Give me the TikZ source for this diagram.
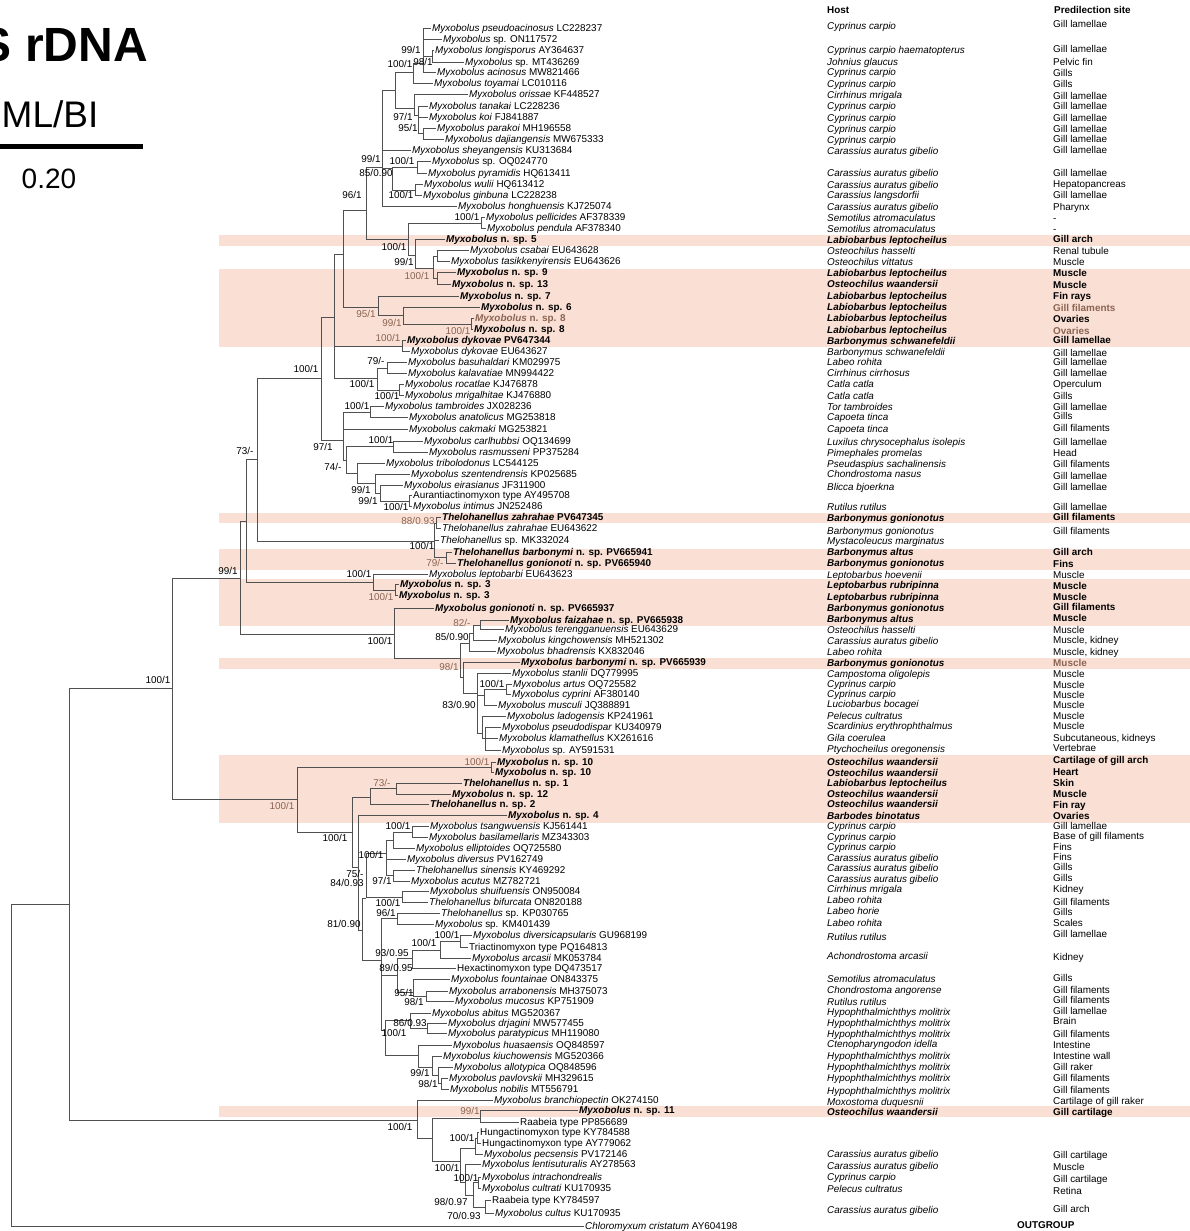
\documentclass[tikz,border=0pt]{standalone}
\usepackage{fontspec}
\setmainfont{Liberation Sans}
\definecolor{band}{RGB}{249,223,212}
\definecolor{brn}{RGB}{140,100,82}
\definecolor{linec}{RGB}{80,80,80}
\newcommand\fs{\fontsize{9.9}{11}\selectfont}
\newcommand\tI[1]{\textit{#1}}
\newcommand\bI[1]{\textbf{\textit{#1}}}
\newcommand\nsp[2]{\bI{#1} \textbf{n. sp. #2}}
\newcommand\leafnode[4]{\node[lf] (#1) at ({#2-1.5},#3) {#4};}
\newcommand\supp[4]{\node[sp] (#1) at (#2,#3) {#4};}
\newcommand\suppb[4]{\node[spb] (#1) at (#2,#3) {#4};}
\begin{document}
\begin{tikzpicture}[x=1pt,y=-1pt,
 br/.style={draw=linec,line width=0.75pt},
 lf/.style={anchor=west,inner xsep=1.5pt,inner ysep=0pt,text height=7pt,text depth=0pt,font=\fs},
 hs/.style={anchor=west,inner sep=0pt,text height=7pt,text depth=0pt,font=\fs},
 sp/.style={inner sep=0pt,text height=7pt,text depth=0pt,font=\fs},
 spb/.style={sp,text=brn},
 bandbox/.style={fill=band,draw=none}]
\useasboundingbox (0,0) rectangle (1190,1231);
% highlight bands
\fill[bandbox] (219,234.5) rectangle (1190,246);
\fill[bandbox] (219,268.5) rectangle (1190,347);
\fill[bandbox] (219,512.5) rectangle (1190,523);
\fill[bandbox] (219,548.5) rectangle (1190,570);
\fill[bandbox] (219,579) rectangle (1190,626);
\fill[bandbox] (219,658) rectangle (1190,669);
\fill[bandbox] (219,755) rectangle (1190,823);
\fill[bandbox] (219,1106) rectangle (1190,1117);
% title, method, scale bar
\node[anchor=base east,inner sep=0pt,font=\fontsize{48}{50}\selectfont\bfseries] (title) at (148,62) {S rDNA};
\node[anchor=base west,inner sep=0pt,font=\fontsize{37}{40}\selectfont] (method) at (1.5,127) {ML/BI};
\coordinate (sbA) at (0,146.3); \coordinate (sbB) at (142.5,146.3);
\draw[line width=4.5pt] (sbA) -- (sbB);
\node[anchor=base west,inner sep=0pt,font=\fontsize{28}{30}\selectfont] (scaleval) at (21.5,188) {0.20};
% internal nodes
\coordinate (R) at (11,1065);
\coordinate (A) at (69,904);
\coordinate (B) at (172,688);
\coordinate (N240) at (240,578);
\coordinate (N246) at (246,521);
\coordinate (T1) at (257,459);
\coordinate (P) at (321,378);
\coordinate (k1) at (334,317);
\coordinate (i1) at (343,254);
\coordinate (f1) at (366,210);
\coordinate (e1) at (382,167);
\coordinate (c1) at (395,90);
\coordinate (a0) at (413,72);
\coordinate (a1) at (423,63);
\coordinate (a2) at (432,56);
\coordinate (b1) at (414,108);
\coordinate (b2) at (418,115);
\coordinate (b3) at (423,133);
\coordinate (d0) at (392,168);
\coordinate (d1) at (417,167);
\coordinate (d2) at (415,190);
\coordinate (h0) at (408,239);
\coordinate (g1) at (481,223);
\coordinate (g2) at (415,255);
\coordinate (g3) at (433,268);
\coordinate (g4) at (437,256);
\coordinate (g5) at (437,278);
\coordinate (j1) at (378,307);
\coordinate (j2) at (403,315);
\coordinate (j3) at (471,324);
\coordinate (m2) at (402,346);
\coordinate (n1) at (377,378);
\coordinate (n2) at (387,368);
\coordinate (n3) at (399,390);
\coordinate (V) at (343,440);
\coordinate (o1) at (370,412);
\coordinate (u1) at (346,460);
\coordinate (u2) at (393,446);
\coordinate (u3) at (357,473);
\coordinate (u4) at (375,483);
\coordinate (u5) at (380,493);
\coordinate (u6) at (409,501);
\coordinate (Q) at (434,541);
\coordinate (q1) at (436,523);
\coordinate (q2) at (446,557);
\coordinate (S1) at (373,582);
\coordinate (S2) at (395,590);
\coordinate (W1) at (394,634);
\coordinate (W2) at (460,658);
\coordinate (W3) at (469,643);
\coordinate (W3b) at (473,633);
\coordinate (W4) at (480,625);
\coordinate (W5) at (463,677);
\coordinate (W6) at (477,693);
\coordinate (W7) at (484,695);
\coordinate (W7a) at (506,689);
\coordinate (W8) at (482,733);
\coordinate (W9) at (485,738);
\coordinate (C) at (297,799);
\coordinate (X1) at (491,767);
\coordinate (Y1) at (352,832);
\coordinate (Z0) at (370,797);
\coordinate (Z1) at (396,788);
\coordinate (Y2) at (358,867);
\coordinate (Y3) at (362,930);
\coordinate (Y4) at (366,898);
\coordinate (Y6) at (386,853);
\coordinate (Y8) at (393,840);
\coordinate (Y8a) at (412,832);
\coordinate (Y9) at (393,875);
\coordinate (Y7) at (402,897);
\coordinate (Y5) at (381,960);
\coordinate (Y10) at (397,918);
\coordinate (Y11) at (397,975);
\coordinate (Y12p) at (412,958);
\coordinate (Y12) at (440,950);
\coordinate (Y13) at (460,941);
\coordinate (Y14) at (413,992);
\coordinate (Y15) at (426,996);
\coordinate (Y18) at (385,1030);
\coordinate (Y24) at (410,1020);
\coordinate (Y23) at (427,1028);
\coordinate (Y26) at (418,1055);
\coordinate (Y20) at (432,1067);
\coordinate (Y21) at (438,1075);
\coordinate (Y22) at (441,1083);
\coordinate (BB0) at (417,1120);
\coordinate (BB1) at (432,1138);
\coordinate (BB2) at (480,1118);
\coordinate (BB3) at (460,1161);
\coordinate (BB4) at (475,1148);
\coordinate (BB4a) at (477,1138);
\coordinate (BB5) at (465,1182);
\coordinate (BB6) at (473,1195);
\coordinate (BB7) at (478,1182);
\coordinate (BB8) at (485,1207);
% leaves
\leafnode{l1}{432}{28}{\tI{Myxobolus pseudoacinosus} LC228237}
\leafnode{l2}{443}{39}{\tI{Myxobolus} sp. ON117572}
\leafnode{l3}{435}{50}{\tI{Myxobolus longisporus} AY364637}
\leafnode{l4}{465}{62}{\tI{Myxobolus} sp. MT436269}
\leafnode{l5}{437}{72}{\tI{Myxobolus acinosus} MW821466}
\leafnode{l6}{434}{83}{\tI{Myxobolus toyamai} LC010116}
\leafnode{l7}{469}{94}{\tI{Myxobolus orissae} KF448527}
\leafnode{l8}{429}{106}{\tI{Myxobolus tanakai} LC228236}
\leafnode{l9}{429}{117}{\tI{Myxobolus koi} FJ841887}
\leafnode{l10}{437}{128}{\tI{Myxobolus parakoi} MH196558}
\leafnode{l11}{445}{139}{\tI{Myxobolus dajiangensis} MW675333}
\leafnode{l12}{412}{150}{\tI{Myxobolus sheyangensis} KU313684}
\leafnode{l13}{432}{161}{\tI{Myxobolus} sp. OQ024770}
\leafnode{l14}{428}{173}{\tI{Myxobolus pyramidis} HQ613411}
\leafnode{l15}{424}{184}{\tI{Myxobolus wulii} HQ613412}
\leafnode{l16}{423}{195}{\tI{Myxobolus ginbuna} LC228238}
\leafnode{l17}{458}{206}{\tI{Myxobolus honghuensis} KJ725074}
\leafnode{l18}{486}{217}{\tI{Myxobolus pellicides} AF378339}
\leafnode{l19}{487}{228}{\tI{Myxobolus pendula} AF378340}
\leafnode{l20}{446}{239}{\nsp{Myxobolus}{5}}
\leafnode{l21}{470}{250}{\tI{Myxobolus csabai} EU643628}
\leafnode{l22}{451}{261}{\tI{Myxobolus tasikkenyirensis} EU643626}
\leafnode{l23}{457}{272}{\nsp{Myxobolus}{9}}
\leafnode{l24}{452}{284}{\nsp{Myxobolus}{13}}
\leafnode{l25}{460}{296}{\nsp{Myxobolus}{7}}
\leafnode{l26}{481}{307}{\nsp{Myxobolus}{6}}
\leafnode{l27}{475}{318}{\color{brn}\nsp{Myxobolus}{8}}
\leafnode{l28}{474}{329}{\nsp{Myxobolus}{8}}
\leafnode{l29}{407}{340}{\bI{Myxobolus dykovae} \textbf{PV647344}}
\leafnode{l30}{411}{351}{\tI{Myxobolus dykovae} EU643627}
\leafnode{l31}{408}{362}{\tI{Myxobolus basuhaldari} KM029975}
\leafnode{l32}{408}{373}{\tI{Myxobolus kalavatiae} MN994422}
\leafnode{l33}{405}{384}{\tI{Myxobolus rocatlae} KJ476878}
\leafnode{l34}{405}{395}{\tI{Myxobolus mrigalhitae} KJ476880}
\leafnode{l35}{385}{406}{\tI{Myxobolus tambroides} JX028236}
\leafnode{l36}{409}{417}{\tI{Myxobolus anatolicus} MG253818}
\leafnode{l37}{409}{429}{\tI{Myxobolus cakmaki} MG253821}
\leafnode{l38}{424}{441}{\tI{Myxobolus carlhubbsi} OQ134699}
\leafnode{l39}{429}{452}{\tI{Myxobolus rasmusseni} PP375284}
\leafnode{l40}{386}{463}{\tI{Myxobolus tribolodonus} LC544125}
\leafnode{l41}{411}{474}{\tI{Myxobolus szentendrensis} KP025685}
\leafnode{l42}{404}{485}{\tI{Myxobolus eirasianus} JF311900}
\leafnode{l43}{413}{495}{Aurantiactinomyxon type AY495708}
\leafnode{l44}{413}{506}{\tI{Myxobolus intimus} JN252486}
\leafnode{l45}{442}{517}{\bI{Thelohanellus zahrahae} \textbf{PV647345}}
\leafnode{l46}{442}{528}{\tI{Thelohanellus zahrahae} EU643622}
\leafnode{l47}{440}{540}{\tI{Thelohanellus} sp. MK332024}
\leafnode{l48}{453}{552}{\bI{Thelohanellus barbonymi} \textbf{n. sp. PV665941}}
\leafnode{l49}{457}{563}{\bI{Thelohanellus gonionoti} \textbf{n. sp. PV665940}}
\leafnode{l50}{429}{574}{\tI{Myxobolus leptobarbi} EU643623}
\leafnode{l51}{400}{584}{\nsp{Myxobolus}{3}}
\leafnode{l52}{399}{595}{\nsp{Myxobolus}{3}}
\leafnode{l53}{435}{608}{\bI{Myxobolus gonionoti} \textbf{n. sp. PV665937}}
\leafnode{l54}{510}{620}{\bI{Myxobolus faizahae} \textbf{n. sp. PV665938}}
\leafnode{l55}{505}{629}{\tI{Myxobolus terengganuensis} EU643629}
\leafnode{l56}{498}{640}{\tI{Myxobolus kingchowensis} MH521302}
\leafnode{l57}{497}{651}{\tI{Myxobolus bhadrensis} KX832046}
\leafnode{l58}{521}{662}{\bI{Myxobolus barbonymi} \textbf{n. sp. PV665939}}
\leafnode{l59}{512}{673}{\tI{Myxobolus stanlii} DQ779995}
\leafnode{l60}{513}{684}{\tI{Myxobolus artus} OQ725582}
\leafnode{l61}{512}{694}{\tI{Myxobolus cyprini} AF380140}
\leafnode{l62}{498}{705}{\tI{Myxobolus musculi} JQ388891}
\leafnode{l63}{507}{716}{\tI{Myxobolus ladogensis} KP241961}
\leafnode{l64}{502}{727}{\tI{Myxobolus pseudodispar} KU340979}
\leafnode{l65}{499}{738}{\tI{Myxobolus klamathellus} KX261616}
\leafnode{l66}{502}{750}{\tI{Myxobolus} sp. AY591531}
\leafnode{l67}{497}{762}{\nsp{Myxobolus}{10}}
\leafnode{l68}{495}{772}{\nsp{Myxobolus}{10}}
\leafnode{l69}{463}{783}{\nsp{Thelohanellus}{1}}
\leafnode{l70}{452}{794}{\nsp{Myxobolus}{12}}
\leafnode{l71}{430}{804}{\nsp{Thelohanellus}{2}}
\leafnode{l72}{508}{815}{\nsp{Myxobolus}{4}}
\leafnode{l73}{430}{826}{\tI{Myxobolus tsangwuensis} KJ561441}
\leafnode{l74}{429}{837}{\tI{Myxobolus basilamellaris} MZ343303}
\leafnode{l75}{416}{848}{\tI{Myxobolus elliptoides} OQ725580}
\leafnode{l76}{407}{859}{\tI{Myxobolus diversus} PV162749}
\leafnode{l77}{416}{870}{\tI{Thelohanellus sinensis} KY469292}
\leafnode{l78}{411}{881}{\tI{Myxobolus acutus} MZ782721}
\leafnode{l79}{430}{891}{\tI{Myxobolus shuifuensis} ON950084}
\leafnode{l80}{429}{902}{\tI{Thelohanellus bifurcata} ON820188}
\leafnode{l81}{441}{913}{\tI{Thelohanellus} sp. KP030765}
\leafnode{l82}{435}{924}{\tI{Myxobolus} sp. KM401439}
\leafnode{l83}{473}{935}{\tI{Myxobolus diversicapsularis} GU968199}
\leafnode{l84}{469}{947}{Triactinomyxon type PQ164813}
\leafnode{l85}{472}{958}{\tI{Myxobolus arcasii} MK053784}
\leafnode{l86}{457}{968}{Hexactinomyxon type DQ473517}
\leafnode{l87}{451}{979}{\tI{Myxobolus fountainae} ON843375}
\leafnode{l88}{449}{991}{\tI{Myxobolus arrabonensis} MH375073}
\leafnode{l89}{455}{1001}{\tI{Myxobolus mucosus} KP751909}
\leafnode{l90}{432}{1013}{\tI{Myxobolus abitus} MG520367}
\leafnode{l91}{448}{1023}{\tI{Myxobolus drjagini} MW577455}
\leafnode{l92}{448}{1033}{\tI{Myxobolus paratypicus} MH119080}
\leafnode{l93}{453}{1045}{\tI{Myxobolus huasaensis} OQ848597}
\leafnode{l94}{443}{1056}{\tI{Myxobolus kiuchowensis} MG520366}
\leafnode{l95}{454}{1067}{\tI{Myxobolus allotypica} OQ848596}
\leafnode{l96}{449}{1078}{\tI{Myxobolus pavlovskii} MH329615}
\leafnode{l97}{450}{1089}{\tI{Myxobolus nobilis} MT556791}
\leafnode{l98}{494}{1100}{\tI{Myxobolus branchiopectin} OK274150}
\leafnode{l99}{579}{1110}{\nsp{Myxobolus}{11}}
\leafnode{l100}{520}{1122}{Raabeia type PP856689}
\leafnode{l101}{480}{1132}{Hungactinomyxon type KY784588}
\leafnode{l102}{482}{1143}{Hungactinomyxon type AY779062}
\leafnode{l103}{484}{1154}{\tI{Myxobolus pecsensis} PV172146}
\leafnode{l104}{482}{1164}{\tI{Myxobolus lentisuturalis} AY278563}
\leafnode{l105}{482}{1177}{\tI{Myxobolus intrachondrealis}}
\leafnode{l106}{482}{1188}{\tI{Myxobolus cultrati} KU170935}
\leafnode{l107}{492}{1200}{Raabeia type KY784597}
\leafnode{l108}{495}{1213}{\tI{Myxobolus cultus} KU170935}
\leafnode{l109}{585}{1226}{\tI{Chloromyxum cristatum} AY604198}
% branches between internal nodes
\foreach \p/\c in {R/A,A/B,A/BB0,B/N240,B/C,N240/N246,N240/W1,N246/T1,N246/S1,T1/P,T1/Q,
 P/k1,P/V,k1/i1,k1/m2,k1/n1,i1/f1,i1/j1,f1/e1,f1/h0,e1/c1,e1/d0,c1/a0,c1/b1,a0/a1,a1/a2,
 b1/b2,b2/b3,d0/d1,d0/d2,h0/g1,h0/g2,g2/g3,g3/g4,g3/g5,j1/j2,j2/j3,n1/n2,n1/n3,V/o1,V/u1,
 u1/u2,u1/u3,u3/u4,u4/u5,u5/u6,Q/q1,Q/q2,S1/S2,W1/W2,W2/W3,W2/W5,W3/W3b,W3b/W4,W5/W6,
 W6/W7,W6/W8,W7/W7a,W8/W9,C/X1,C/Y1,Y1/Z0,Y1/Y2,Z0/Z1,Y2/Y3,Y3/Y4,Y3/Y5,Y4/Y6,Y4/Y7,
 Y6/Y8,Y6/Y9,Y8/Y8a,Y5/Y10,Y5/Y11,Y5/Y18,Y11/Y12p,Y11/Y14,Y12p/Y12,Y12/Y13,Y14/Y15,
 Y18/Y24,Y18/Y26,Y24/Y23,Y26/Y20,Y20/Y21,Y21/Y22,BB0/BB1,BB1/BB2,BB1/BB3,BB3/BB4,BB3/BB5,
 BB4/BB4a,BB5/BB6,BB6/BB7,BB6/BB8}
 {\draw[br] (\p) |- (\c);}
% branches to leaves
\foreach \p/\c in {a1/l1,a1/l2,a2/l3,a2/l4,a1/l5,a0/l6,b1/l7,b2/l8,b2/l9,b3/l10,b3/l11,
 e1/l12,d1/l13,d1/l14,d2/l15,d2/l16,e1/l17,g1/l18,g1/l19,g2/l20,g4/l21,g4/l22,g5/l23,g5/l24,
 j1/l25,j2/l26,j3/l27,j3/l28,m2/l29,m2/l30,n2/l31,n2/l32,n3/l33,n3/l34,o1/l35,o1/l36,V/l37,
 u2/l38,u2/l39,u3/l40,u4/l41,u5/l42,u6/l43,u6/l44,q1/l45,q1/l46,Q/l47,q2/l48,q2/l49,
 S1/l50,S2/l51,S2/l52,W1/l53,W4/l54,W4/l55,W3b/l56,W3/l57,W5/l58,W6/l59,W7a/l60,W7a/l61,
 W7/l62,W8/l63,W9/l64,W9/l65,W9/l66,X1/l67,X1/l68,Z1/l69,Z1/l70,Z0/l71,Y2/l72,Y8a/l73,
 Y8a/l74,Y8/l75,Y6/l76,Y9/l77,Y9/l78,Y7/l79,Y7/l80,Y10/l81,Y10/l82,Y13/l83,Y13/l84,Y12/l85,
 Y12p/l86,Y14/l87,Y15/l88,Y15/l89,Y24/l90,Y23/l91,Y23/l92,Y26/l93,Y20/l94,Y21/l95,Y22/l96,
 Y22/l97,BB0/l98,BB2/l99,BB2/l100,BB4a/l101,BB4a/l102,BB4/l103,BB5/l104,BB7/l105,BB7/l106,
 BB8/l107,BB8/l108,R/l109}
 {\draw[br] (\p) |- (\c.west);}
% support values
\supp{s1}{411}{50}{99/1}
\supp{s2}{423}{62}{98/1}
\supp{s3}{400}{64}{100/1}
\supp{s4}{403}{117}{97/1}
\supp{s5}{408}{128}{95/1}
\supp{s6}{371}{159}{99/1}
\supp{s7}{402}{161}{100/1}
\supp{s8}{376}{173}{85/0.90}
\supp{s9}{401}{195}{100/1}
\supp{s10}{352}{195}{96/1}
\supp{s11}{467}{217}{100/1}
\supp{s12}{394}{247}{100/1}
\supp{s13}{404}{262}{99/1}
\suppb{s14}{417}{276}{100/1}
\suppb{s15}{366}{314}{95/1}
\suppb{s16}{392}{323}{99/1}
\suppb{s17}{458}{331}{100/1}
\suppb{s18}{388}{338}{100/1}
\supp{s19}{376}{361}{79/-}
\supp{s20}{362}{384}{100/1}
\supp{s21}{387}{396}{100/1}
\supp{s22}{357}{406}{100/1}
\supp{s23}{306}{369}{100/1}
\supp{s24}{323}{447}{97/1}
\supp{s25}{333}{467}{74/-}
\supp{s26}{381}{440}{100/1}
\supp{s27}{361}{490}{99/1}
\supp{s28}{368}{501}{99/1}
\supp{s29}{396}{507}{100/1}
\suppb{s30}{418}{521}{88/0.93}
\supp{s31}{422}{546}{100/1}
\suppb{s32}{435}{563}{79/-}
\supp{s33}{359}{574}{100/1}
\suppb{s34}{381}{597}{100/1}
\supp{s35}{245}{451}{73/-}
\supp{s36}{228}{571}{99/1}
\supp{s37}{158}{680}{100/1}
\suppb{s38}{462}{623}{82/-}
\supp{s39}{452}{637}{85/0.90}
\supp{s40}{380}{641}{100/1}
\suppb{s41}{449}{667}{98/1}
\supp{s42}{492}{684}{100/1}
\supp{s43}{459}{705}{83/0.90}
\suppb{s44}{477}{762}{100/1}
\suppb{s45}{382}{783}{73/-}
\suppb{s46}{282}{806}{100/1}
\supp{s47}{335}{838}{100/1}
\supp{s48}{398}{826}{100/1}
\supp{s49}{371}{855}{100/1}
\supp{s50}{355}{874}{75/-}
\supp{s51}{347}{883}{84/0.93}
\supp{s52}{382}{881}{97/1}
\supp{s53}{388}{903}{100/1}
\supp{s54}{386}{913}{96/1}
\supp{s55}{344}{924}{81/0.90}
\supp{s56}{447}{935}{100/1}
\supp{s57}{424}{943}{100/1}
\supp{s58}{392}{953}{93/0.95}
\supp{s59}{396}{968}{89/0.95}
\supp{s60}{404}{993}{95/1}
\supp{s61}{414}{1002}{98/1}
\supp{s62}{410}{1023}{86/0.93}
\supp{s63}{394}{1033}{100/1}
\supp{s64}{420}{1073}{99/1}
\supp{s65}{428}{1084}{98/1}
\suppb{s66}{470}{1111}{99/1}
\supp{s67}{400}{1127}{100/1}
\supp{s68}{462}{1138}{100/1}
\supp{s69}{447}{1168}{100/1}
\supp{s70}{466}{1178}{100/1}
\supp{s71}{451}{1202}{98/0.97}
\supp{s72}{464}{1216}{70/0.93}
% headers
\node[hs,font=\fs\bfseries] (hhost) at (827,10) {Host};
\node[hs,font=\fs\bfseries] (hsite) at (1054,10) {Predilection site};
\node[hs,font=\fs\bfseries] (outg) at (1017,1225) {OUTGROUP};
% hosts
\foreach \y/\t [count=\i] in {26/{Cyprinus carpio},50/{Cyprinus carpio haematopterus},62/{Johnius glaucus},
 72/{Cyprinus carpio},84/{Cyprinus carpio},95/{Cirrhinus mrigala},106/{Cyprinus carpio},118/{Cyprinus carpio},
 129/{Cyprinus carpio},140/{Cyprinus carpio},151/{Carassius auratus gibelio},173/{Carassius auratus gibelio},
 185/{Carassius auratus gibelio},195/{Carassius langsdorfii},207/{Carassius auratus gibelio},
 218/{Semotilus atromaculatus},229/{Semotilus atromaculatus},251/{Osteochilus hasselti},262/{Osteochilus vittatus},
 352/{Barbonymus schwanefeldii},362/{Labeo rohita},373/{Cirrhinus cirrhosus},384/{Catla catla},396/{Catla catla},
 407/{Tor tambroides},417/{Capoeta tinca},429/{Capoeta tinca},442/{Luxilus chrysocephalus isolepis},
 453/{Pimephales promelas},464/{Pseudaspius sachalinensis},474/{Chondrostoma nasus},487/{Blicca bjoerkna},
 507/{Rutilus rutilus},531/{Barbonymus gonionotus},541/{Mystacoleucus marginatus},575/{Leptobarbus hoevenii},
 630/{Osteochilus hasselti},641/{Carassius auratus gibelio},652/{Labeo rohita},674/{Campostoma oligolepis},
 684/{Cyprinus carpio},694/{Cyprinus carpio},704/{Luciobarbus bocagei},716/{Pelecus cultratus},
 726/{Scardinius erythrophthalmus},738/{Gila coerulea},749/{Ptychocheilus oregonensis},826/{Cyprinus carpio},
 837/{Cyprinus carpio},847/{Cyprinus carpio},858/{Carassius auratus gibelio},868/{Carassius auratus gibelio},
 879/{Carassius auratus gibelio},889/{Cirrhinus mrigala},900/{Labeo rohita},911/{Labeo horie},923/{Labeo rohita},
 937/{Rutilus rutilus},956/{Achondrostoma arcasii},979/{Semotilus atromaculatus},990/{Chondrostoma angorense},
 1002/{Rutilus rutilus},1012/{Hypophthalmichthys molitrix},1023/{Hypophthalmichthys molitrix},
 1034/{Hypophthalmichthys molitrix},1044/{Ctenopharyngodon idella},1056/{Hypophthalmichthys molitrix},
 1067/{Hypophthalmichthys molitrix},1078/{Hypophthalmichthys molitrix},1091/{Hypophthalmichthys molitrix},
 1102/{Moxostoma duquesnii},1154/{Carassius auratus gibelio},1166/{Carassius auratus gibelio},
 1177/{Cyprinus carpio},1189/{Pelecus cultratus},1210/{Carassius auratus gibelio}}
 {\node[hs] (h\i) at (827,\y) {\textit{\t}};}
\foreach \y/\t [count=\i] in {240/{Labiobarbus leptocheilus},273/{Labiobarbus leptocheilus},
 284/{Osteochilus waandersii},296/{Labiobarbus leptocheilus},307/{Labiobarbus leptocheilus},
 318/{Labiobarbus leptocheilus},330/{Labiobarbus leptocheilus},341/{Barbonymus schwanefeldii},
 518/{Barbonymus gonionotus},552/{Barbonymus altus},563/{Barbonymus gonionotus},585/{Leptobarbus rubripinna},
 597/{Leptobarbus rubripinna},608/{Barbonymus gonionotus},619/{Barbonymus altus},663/{Barbonymus gonionotus},
 762/{Osteochilus waandersii},773/{Osteochilus waandersii},783/{Labiobarbus leptocheilus},
 794/{Osteochilus waandersii},804/{Osteochilus waandersii},816/{Barbodes binotatus},1112/{Osteochilus waandersii}}
 {\node[hs] (hb\i) at (827,\y) {\bI{\t}};}
% predilection sites
\foreach \y/\t [count=\i] in {24/{Gill lamellae},49/{Gill lamellae},62/{Pelvic fin},73/{Gills},84/{Gills},
 96/{Gill lamellae},106/{Gill lamellae},118/{Gill lamellae},129/{Gill lamellae},139/{Gill lamellae},
 150/{Gill lamellae},173/{Gill lamellae},184/{Hepatopancreas},195/{Gill lamellae},207/{Pharynx},218/{-},229/{-},
 251/{Renal tubule},262/{Muscle},353/{Gill lamellae},362/{Gill lamellae},373/{Gill lamellae},384/{Operculum},
 396/{Gills},407/{Gill lamellae},416/{Gills},428/{Gill filaments},442/{Gill lamellae},453/{Head},
 464/{Gill filaments},476/{Gill lamellae},487/{Gill lamellae},507/{Gill lamellae},531/{Gill filaments},
 575/{Muscle},630/{Muscle},640/{Muscle, kidney},652/{Muscle, kidney},674/{Muscle},685/{Muscle},695/{Muscle},
 705/{Muscle},716/{Muscle},726/{Muscle},738/{Subcutaneous, kidneys},748/{Vertebrae},826/{Gill lamellae},
 836/{Base of gill filaments},847/{Fins},857/{Fins},867/{Gills},878/{Gills},889/{Kidney},902/{Gill filaments},
 912/{Gills},923/{Scales},934/{Gill lamellae},957/{Kidney},978/{Gills},990/{Gill filaments},1000/{Gill filaments},
 1011/{Gill lamellae},1021/{Brain},1034/{Gill filaments},1045/{Intestine},1056/{Intestine wall},1067/{Gill raker},
 1078/{Gill filaments},1090/{Gill filaments},1101/{Cartilage of gill raker},1155/{Gill cartilage},1167/{Muscle},
 1179/{Gill cartilage},1191/{Retina},1209/{Gill arch}}
 {\node[hs] (st\i) at (1053,\y) {\t};}
\foreach \y/\t [count=\i] in {239/{Gill arch},273/{Muscle},285/{Muscle},296/{Fin rays},319/{Ovaries},
 340/{Gill lamellae},517/{Gill filaments},552/{Gill arch},564/{Fins},586/{Muscle},597/{Muscle},
 607/{Gill filaments},618/{Muscle},760/{Cartilage of gill arch},772/{Heart},783/{Skin},794/{Muscle},
 805/{Fin ray},816/{Ovaries},1112/{Gill cartilage}}
 {\node[hs] (sb\i) at (1053,\y) {\textbf{\t}};}
\node[hs,text=brn] (sbr1) at (1053,308) {\textbf{Gill filaments}};
\node[hs,text=brn] (sbr2) at (1053,331) {\textbf{Ovaries}};
\node[hs,text=brn] (sbr3) at (1053,663) {\textbf{Muscle}};
\end{tikzpicture}
\end{document}
